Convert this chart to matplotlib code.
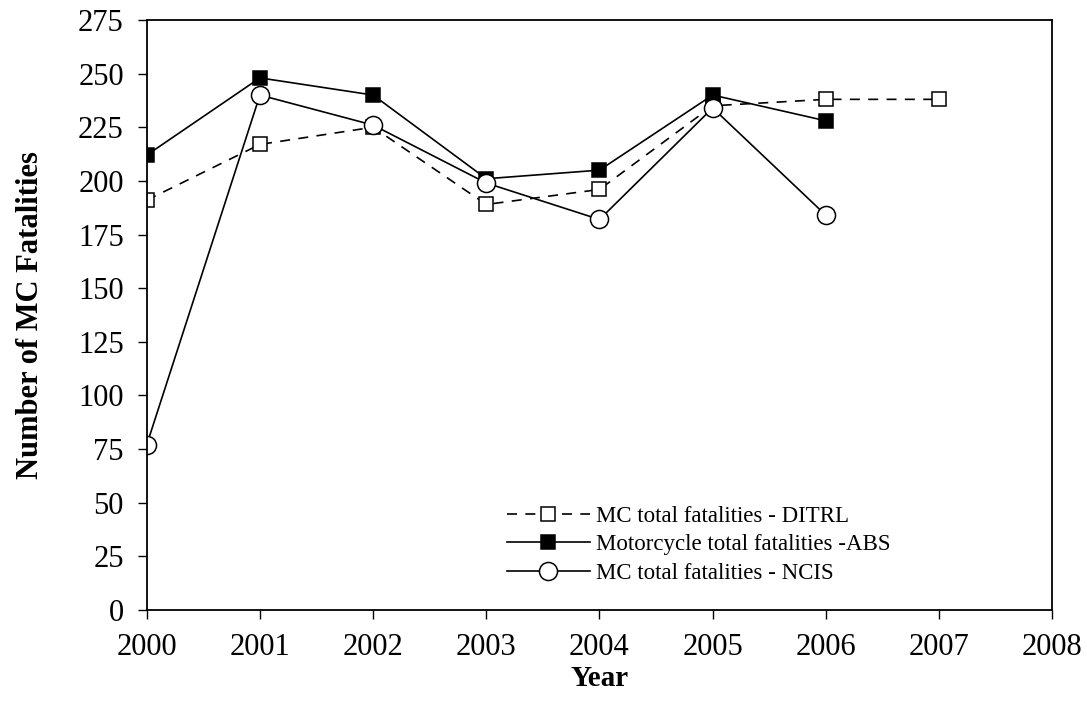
import matplotlib.pyplot as plt
import numpy as np

plt.rcParams['font.family'] = ['Liberation Serif', 'DejaVu Serif']

# data
years_ditrl = [2000, 2001, 2002, 2003, 2004, 2005, 2006, 2007]
ditrl = [191, 217, 225, 189, 196, 235, 238, 238]

years_abs = [2000, 2001, 2002, 2003, 2004, 2005, 2006]
abs_vals = [212, 248, 240, 201, 205, 240, 228]

years_ncis = [2000, 2001, 2002, 2003, 2004, 2005, 2006]
ncis = [77, 240, 226, 199, 182, 234, 184]

labels = ['MC total fatalities - DITRL',
          'Motorcycle total fatalities -ABS',
          'MC total fatalities - NCIS']

fig = plt.figure(figsize=(10.87, 7.13), dpi=100)
ax = fig.add_axes([0.135, 0.1445, 0.833, 0.8275])

lw = 1.2
ax.plot(years_ditrl, ditrl, color='black', lw=lw, linestyle=(0, (6, 5)),
        marker='s', ms=9.5, mfc='white', mec='black', mew=1.1, label=labels[0])
ax.plot(years_abs, abs_vals, color='black', lw=lw, linestyle='-',
        marker='s', ms=9.5, mfc='black', mec='black', mew=1.1, label=labels[1])
ax.plot(years_ncis, ncis, color='black', lw=lw, linestyle='-',
        marker='o', ms=13, mfc='white', mec='black', mew=1.1, label=labels[2])

ax.set_xlim(2000, 2008)
ax.set_ylim(0, 275)
ax.set_xticks(np.arange(2000, 2009, 1))
ax.set_yticks(np.arange(0, 276, 25))

ax.tick_params(axis='both', direction='out', labelsize=22, width=1.0, length=6.5)
ax.tick_params(axis='y', pad=10)
ax.tick_params(axis='x', pad=10)
for s in ax.spines.values():
    s.set_linewidth(1.3)

ax.set_xlabel('Year', fontsize=21, fontweight='bold', labelpad=2)
ax.set_ylabel('Number of MC Fatalities', fontsize=22, fontweight='bold', labelpad=24)

ax.legend(loc='lower left', bbox_to_anchor=(0.398, 0.044), frameon=False,
          fontsize=16.5, handlelength=3.6, handletextpad=0.3, borderpad=0,
          borderaxespad=0, labelspacing=0.33)

fig.savefig('out.png', dpi=100)
